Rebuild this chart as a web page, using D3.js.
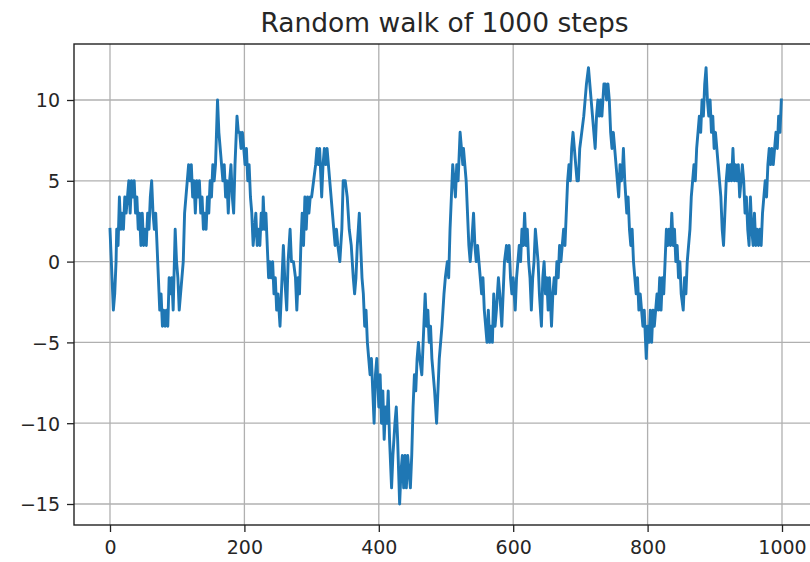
<!DOCTYPE html>
<html>
<head>
<meta charset="utf-8">
<script src="https://cdn.jsdelivr.net/npm/d3@7"></script>
<style>
  html, body { margin: 0; padding: 0; background: #ffffff; }
  svg { display: block; }
  text { font-family: "DejaVu Sans", sans-serif; fill: #262626; }
</style>
</head>
<body>
<svg id="chart" width="810" height="562"></svg>
<script>
// ---- data (step index, walk value) ----
const titleText = "Random walk of 1000 steps";
const xTickValues = [0, 200, 400, 600, 800, 1000];
const yTickValues = [-15, -10, -5, 0, 5, 10];

const walkSteps = [
  0,1,3,5,7,9,10,12,14,16,18,20,22,24,26,28,30,32,34,36,38,40,42,44,46,48,50,52,54,56,58,60,62,64,66,68,70,72,74,76,78,80,82,84,86,88,90,92,94,97,99,
  101,103,105,107,109,111,113,115,117,119,121,123,125,127,129,131,133,135,137,139,141,143,145,147,149,151,153,155,157,160,162,164,166,168,170,172,174,176,178,180,182,184,186,189,191,193,
  195,197,199,201,203,205,207,209,211,213,215,217,219,221,223,225,227,228,230,232,234,236,238,240,242,244,246,248,250,253,255,258,260,263,265,268,270,273,276,278,280,282,284,286,288,290,292,294,296,298,300,
  303,306,308,310,312,314,315,317,319,321,323,325,327,329,331,333,335,337,339,342,345,347,350,353,356,359,362,364,366,368,371,373,375,377,379,381,383,385,387,389,391,393,395,397,399,400,
  402,404,406,408,410,412,414,416,419,421,424,426,428,431,433,435,437,439,441,443,445,447,449,451,453,455,457,459,461,464,466,469,471,473,475,477,479,481,483,486,488,490,492,494,497,499,
  502,504,506,508,510,512,514,516,518,521,523,525,526,528,530,532,534,536,538,541,543,545,547,549,551,553,555,557,559,561,563,565,567,569,571,573,575,578,580,583,585,587,590,592,594,596,598,600,603,605,607,609,611,613,615,
  617,619,621,623,625,627,629,631,633,635,637,639,642,644,646,648,650,652,654,657,659,661,663,665,667,669,671,673,675,677,679,681,683,685,687,689,691,693,695,697,699,702,705,707,709,
  712,714,716,718,720,722,724,726,728,730,732,735,737,739,741,743,745,747,749,751,753,755,757,759,761,763,764,766,769,771,773,775,777,779,781,783,785,787,789,791,793,795,797,798,800,802,804,806,808,810,812,814,816,
  818,820,822,824,826,828,830,832,834,836,838,840,842,844,846,848,850,853,855,857,859,861,863,865,867,869,871,873,875,877,879,881,883,885,887,889,891,893,895,897,899,901,903,905,907,909,911,913,915,917,919,921,923,925,927,929,931,933,935,937,939,941,943,945,947,949,951,953,955,957,959,961,963,965,967,969,971,973,975,977,979,981,983,985,987,989,991,993,995,997,999
];
const walkValues = [
  2,1,-1,-3,-2,0,2,1,4,2,3,2,4,3,4,5,3,5,4,5,3,4,2,3,1,3,1,2,1,3,2,4,5,3,2,3,1,-1,-3,-2,-4,-3,-4,-3,-4,-1,-2,-1,-3,2,0,
  -1,-3,-2,-1,0,3,4,5,6,5,6,4,5,3,5,4,5,3,4,2,3,2,4,3,5,4,6,5,6,10,8,7,6,5,6,4,5,3,5,6,4,3,6,9,8,8,
  7,8,7,6,7,5,6,4,3,1,2,3,1,2,1,3,2,4,2,3,1,-1,0,-1,0,-2,-1,-3,-2,-4,-2,1,-1,-3,0,2,0,0,-1,-3,-1,-2,1,3,1,4,2,4,3,4,4,
  5,6,7,6,7,5,4,6,7,6,7,6,5,4,3,2,1,2,1,0,2,5,5,4,2,1,-1,-2,-1,1,3,1,-1,-2,-4,-3,-5,-6,-7,-6,-8,-10,-7,-6,-8,-9,
  -7,-10,-8,-11,-9,-10,-8,-11,-14,-12,-10,-9,-11,-15,-13,-12,-14,-12,-14,-12,-13,-14,-12,-9,-7,-8,-6,-5,-6,-7,-5,-2,-4,-3,-5,-4,-6,-7,-8,-10,-8,-6,-5,-4,-2,-1,
  0,-1,2,4,6,5,4,6,5,8,7,6,7,6,5,3,1,0,1,3,1,0,1,0,-1,-2,-1,-3,-4,-5,-3,-5,-4,-5,-2,-4,-3,-1,-2,-4,-2,0,1,0,1,-1,-2,-1,-3,-1,0,1,0,2,1,
  3,1,2,0,-1,-3,-1,0,2,1,0,-2,-4,-1,0,-2,-1,-3,-1,-4,-2,-1,-2,0,-1,1,0,1,2,1,3,5,6,5,7,8,7,6,5,5,7,8,9,10,11,
  12,11,10,9,8,7,9,10,9,10,9,11,11,10,11,10,8,7,8,7,6,5,4,6,5,6,7,5,3,4,2,1,2,0,-1,-2,-1,-3,-2,-3,-4,-3,-5,-6,-4,-5,-3,-5,-3,-4,-3,-2,-3,
  -1,-3,-1,-2,0,2,1,2,1,3,1,2,0,1,-1,0,-2,-3,-1,-2,0,1,2,4,5,6,5,7,8,9,8,10,9,11,12,10,9,10,8,9,7,8,7,6,5,4,2,1,3,5,6,5,6,5,7,5,6,5,6,4,5,6,5,3,4,2,1,4,2,1,3,1,2,1,2,1,3,4,5,4,6,7,6,7,6,7,8,7,9,8,10
];

// ---- layout ----
const W = 810, H = 562;
const frame = { left: 74, right: 815, top: 44, bottom: 525 };
const tickFont = 19, titleFont = 26.5;

const svg = d3.select("#chart");
svg.append("rect").attr("width", W).attr("height", H).attr("fill", "#ffffff");

const x = d3.scaleLinear().domain([0, 1000]).range([110, 782]);
const y = d3.scaleLinear().domain([-15, 10]).range([504, 100]);

// grid
const grid = svg.append("g").attr("stroke", "#b0b0b0").attr("stroke-width", 1.3);
grid.selectAll("line.vx").data(xTickValues).join("line")
  .attr("x1", d => x(d)).attr("x2", d => x(d))
  .attr("y1", frame.top).attr("y2", frame.bottom);
grid.selectAll("line.hy").data(yTickValues).join("line")
  .attr("y1", d => y(d)).attr("y2", d => y(d))
  .attr("x1", frame.left).attr("x2", frame.right);

// clip for the line
svg.append("clipPath").attr("id", "clip").append("rect")
  .attr("x", frame.left).attr("y", frame.top)
  .attr("width", frame.right - frame.left).attr("height", frame.bottom - frame.top);

const pts = walkSteps.map((s, i) => [s, walkValues[i]]);
const line = d3.line().x(d => x(d[0])).y(d => y(d[1]));
svg.append("path")
  .datum(pts)
  .attr("clip-path", "url(#clip)")
  .attr("fill", "none")
  .attr("stroke", "#1f77b4")
  .attr("stroke-width", 2.9)
  .attr("stroke-linejoin", "round")
  .attr("stroke-linecap", "square")
  .attr("d", line);

// axes via d3 axis generators
const xAxis = d3.axisBottom(x).tickValues(xTickValues).tickSize(7).tickPadding(4).tickFormat(d3.format("d"));
const yAxis = d3.axisLeft(y).tickValues(yTickValues).tickSize(7).tickPadding(7)
  .tickFormat(d => d < 0 ? "\u2212" + Math.abs(d) : String(d));

const gx = svg.append("g").attr("transform", `translate(0,${frame.bottom})`).call(xAxis);
const gy = svg.append("g").attr("transform", `translate(${frame.left},0)`).call(yAxis);
[gx, gy].forEach(g => {
  g.select(".domain").remove();
  g.selectAll(".tick line").attr("stroke", "#222").attr("stroke-width", 1.3);
  g.selectAll(".tick text").attr("font-family", "DejaVu Sans").attr("font-size", tickFont).attr("fill", "#262626");
});
gx.selectAll(".tick text").attr("dy", "0.95em");
gy.selectAll(".tick text").attr("dy", "0.36em");

// frame (spines)
svg.append("rect")
  .attr("x", frame.left).attr("y", frame.top)
  .attr("width", frame.right - frame.left).attr("height", frame.bottom - frame.top)
  .attr("fill", "none").attr("stroke", "#222").attr("stroke-width", 1.4);

// title
svg.append("text")
  .attr("x", (frame.left + frame.right) / 2)
  .attr("y", 32)
  .attr("text-anchor", "middle")
  .attr("font-size", titleFont)
  .text(titleText);
</script>
</body>
</html>
